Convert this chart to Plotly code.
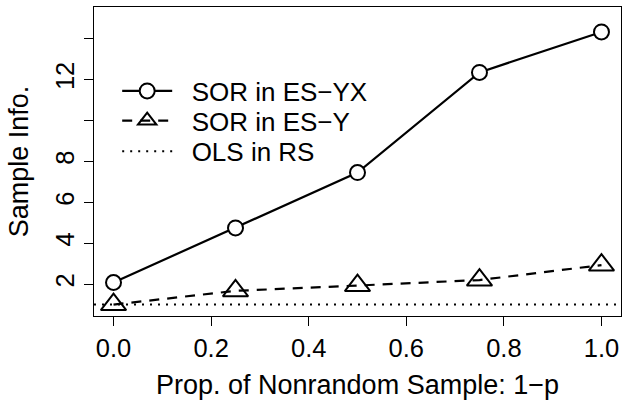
import plotly.graph_objects as go

# Data
prop = [0.0, 0.25, 0.5, 0.75, 1.0]
sor_es_yx = [2.08, 4.75, 7.46, 12.36, 14.34]
sor_es_y = [1.0, 1.67, 1.93, 2.2, 2.93]
ols_rs = 1.0

x_ticks = [0.0, 0.2, 0.4, 0.6, 0.8, 1.0]
x_ticktext = ["0.0", "0.2", "0.4", "0.6", "0.8", "1.0"]
y_ticks = [2, 4, 6, 8, 10, 12, 14]
y_ticktext = ["2", "4", "6", "8", "", "12", ""]

FONT = "Liberation Sans, Arial, Helvetica, sans-serif"
FS = 25.5
FT = 27

fig = go.Figure()

fig.add_trace(go.Scatter(
    x=prop, y=sor_es_yx, mode="lines+markers", name="  SOR in ES\u2212YX",
    line=dict(color="black", width=2.2),
    marker=dict(symbol="circle", size=15, color="white", line=dict(color="black", width=2)),
    legend="legend",
))
fig.add_trace(go.Scatter(
    x=prop, y=sor_es_y, mode="lines+markers", name="  SOR in ES\u2212Y",
    line=dict(color="black", width=2.2, dash="10px,8px"),
    marker=dict(symbol="triangle-up-open", size=22, color="black", line=dict(color="black", width=2)),
    legend="legend2",
))
fig.add_trace(go.Scatter(
    x=[None], y=[None], mode="lines", name="  OLS in RS",
    line=dict(color="black", width=2, dash="2px,6px"),
    legend="legend3",
))

fig.add_shape(type="line", xref="paper", x0=0, x1=1, yref="y", y0=ols_rs, y1=ols_rs,
              line=dict(color="black", width=2, dash="2px,6px"), layer="above")

leg_common = dict(font=dict(family=FONT, size=26, color="black"), bgcolor="rgba(0,0,0,0)",
                  xanchor="left", yanchor="middle", itemwidth=50, borderwidth=0,
                  tracegroupgap=0)

fig.update_layout(
    width=622, height=406,
    margin=dict(l=94, r=1, t=7, b=90),
    paper_bgcolor="white", plot_bgcolor="white",
    font=dict(family=FONT, size=FS, color="black"),
    showlegend=True,
    legend=dict(x=0.044, y=0.728, **leg_common),
    legend2=dict(x=0.044, y=0.632, **leg_common),
    legend3=dict(x=0.044, y=0.533, **leg_common),
    xaxis=dict(range=[-0.04, 1.04], tickvals=x_ticks, ticktext=x_ticktext,
               showline=True, mirror=True, linecolor="black", linewidth=1,
               ticks="outside", ticklen=9, tickcolor="black", tickwidth=1,
               showgrid=False, zeroline=False,
               title=dict(text="Prop. of Nonrandom Sample: 1\u2212p", standoff=14,
                          font=dict(family=FONT, size=FT))),
    yaxis=dict(range=[0.44, 15.56], tickvals=y_ticks, ticktext=y_ticktext,
               tickangle=-90,
               showline=True, mirror=True, linecolor="black", linewidth=1,
               ticks="outside", ticklen=9, tickcolor="black", tickwidth=1,
               showgrid=False, zeroline=False,
               title=dict(text="Sample Info.", standoff=14,
                          font=dict(family=FONT, size=FT))),
)

fig.write_html("out.html")
